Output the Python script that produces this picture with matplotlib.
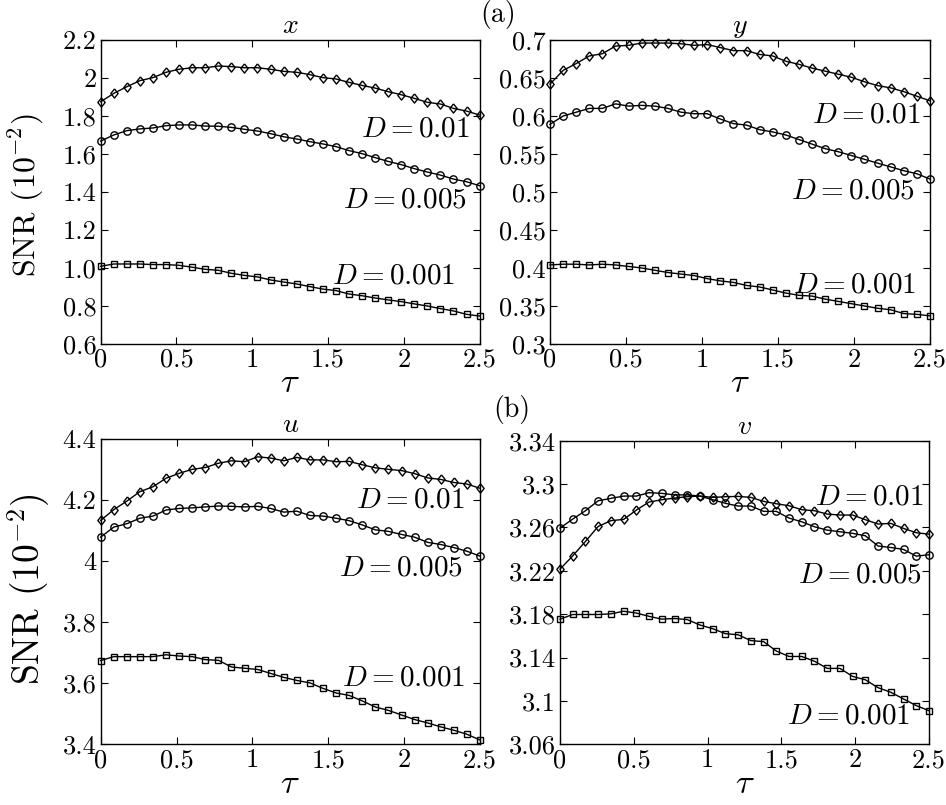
import numpy as np
import matplotlib
matplotlib.use("Agg")
import matplotlib.pyplot as plt

plt.rcParams["font.family"] = "serif"
plt.rcParams["font.serif"] = ["cmr10", "DejaVu Serif"]
plt.rcParams["mathtext.fontset"] = "cm"
plt.rcParams["axes.unicode_minus"] = False
plt.rcParams["axes.formatter.use_mathtext"] = True

tau = np.linspace(0, 2.5, 30)

# panel x
x_d01 = [1.875, 1.919, 1.954, 1.986, 2.002, 2.030, 2.046, 2.054, 2.054, 2.063,
         2.060, 2.054, 2.054, 2.046, 2.035, 2.030, 2.018, 2.002, 1.995, 1.977,
         1.961, 1.947, 1.928, 1.912, 1.893, 1.872, 1.863, 1.840, 1.826, 1.805]
x_d005 = [1.668, 1.700, 1.723, 1.732, 1.737, 1.749, 1.753, 1.753, 1.747, 1.746,
          1.740, 1.730, 1.721, 1.707, 1.691, 1.679, 1.665, 1.653, 1.639, 1.618,
          1.602, 1.581, 1.561, 1.544, 1.523, 1.505, 1.489, 1.468, 1.454, 1.433]
x_d001 = [1.009, 1.021, 1.021, 1.021, 1.018, 1.018, 1.014, 1.004, 0.993, 0.988,
          0.972, 0.961, 0.953, 0.937, 0.926, 0.916, 0.902, 0.889, 0.881, 0.863,
          0.854, 0.842, 0.832, 0.823, 0.811, 0.800, 0.786, 0.774, 0.756, 0.747]

# panel y
y_d01 = [0.642, 0.660, 0.669, 0.679, 0.682, 0.692, 0.693, 0.696, 0.696, 0.696,
         0.695, 0.693, 0.694, 0.690, 0.686, 0.686, 0.681, 0.679, 0.672, 0.668,
         0.663, 0.659, 0.655, 0.651, 0.645, 0.640, 0.637, 0.632, 0.626, 0.620]
y_d005 = [0.589, 0.600, 0.605, 0.610, 0.610, 0.616, 0.613, 0.614, 0.613, 0.610,
          0.605, 0.603, 0.603, 0.596, 0.590, 0.588, 0.582, 0.579, 0.575, 0.569,
          0.563, 0.557, 0.553, 0.548, 0.543, 0.538, 0.533, 0.528, 0.524, 0.517]
y_d001 = [0.404, 0.405, 0.405, 0.404, 0.405, 0.404, 0.402, 0.400, 0.397, 0.394,
          0.392, 0.390, 0.386, 0.383, 0.381, 0.377, 0.375, 0.371, 0.367, 0.364,
          0.363, 0.359, 0.356, 0.353, 0.350, 0.347, 0.345, 0.340, 0.339, 0.337]

# panel u
u_d01 = [4.133, 4.168, 4.196, 4.227, 4.243, 4.271, 4.287, 4.300, 4.306, 4.320,
         4.328, 4.325, 4.341, 4.337, 4.328, 4.339, 4.331, 4.331, 4.325, 4.326,
         4.315, 4.305, 4.300, 4.296, 4.286, 4.272, 4.267, 4.257, 4.252, 4.238]
u_d005 = [4.078, 4.111, 4.122, 4.140, 4.147, 4.167, 4.172, 4.174, 4.177, 4.180,
          4.179, 4.177, 4.179, 4.172, 4.160, 4.163, 4.149, 4.147, 4.140, 4.132,
          4.118, 4.102, 4.097, 4.087, 4.078, 4.061, 4.054, 4.044, 4.032, 4.016]
u_d001 = [3.674, 3.687, 3.687, 3.687, 3.687, 3.693, 3.689, 3.687, 3.677, 3.675,
          3.653, 3.649, 3.645, 3.632, 3.619, 3.609, 3.601, 3.583, 3.568, 3.560,
          3.542, 3.522, 3.511, 3.496, 3.481, 3.470, 3.457, 3.446, 3.433, 3.414]

# panel v
v_d01 = [3.2215, 3.2338, 3.2471, 3.2609, 3.2662, 3.2674, 3.2760, 3.2834, 3.2855, 3.2871,
         3.2883, 3.2889, 3.2877, 3.2883, 3.2886, 3.2877, 3.2840, 3.2818, 3.2800, 3.2763,
         3.2754, 3.2723, 3.2714, 3.2714, 3.2671, 3.2631, 3.2637, 3.2591, 3.2551, 3.2538]
v_d005 = [3.2594, 3.2677, 3.2754, 3.2846, 3.2868, 3.2889, 3.2889, 3.2920, 3.2914, 3.2900,
          3.2900, 3.2889, 3.2855, 3.2822, 3.2797, 3.2797, 3.2748, 3.2748, 3.2686, 3.2652,
          3.2606, 3.2575, 3.2560, 3.2545, 3.2523, 3.2428, 3.2415, 3.2397, 3.2335, 3.2348]
v_d001 = [3.1754, 3.1797, 3.1797, 3.1797, 3.1803, 3.1827, 3.1810, 3.1780, 3.1754, 3.1760,
          3.1750, 3.1700, 3.1666, 3.1620, 3.1610, 3.1556, 3.1547, 3.1460, 3.1410, 3.1410,
          3.1366, 3.1300, 3.1300, 3.1226, 3.1195, 3.1122, 3.1080, 3.1018, 3.0957, 3.0910]

x_ticks = [0, 0.5, 1, 1.5, 2, 2.5]
x_ticklabels = ["0", "0.5", "1", "1.5", "2", "2.5"]

panels = [
    # title, series, yticks, yticklabels, axes rect, label positions (axes fraction)
    ("$x$", (x_d01, x_d005, x_d001),
     [0.6, 0.8, 1.0, 1.2, 1.4, 1.6, 1.8, 2.0, 2.2],
     ["0.6", "0.8", "1.0", "1.2", "1.4", "1.6", "1.8", "2", "2.2"],
     [0.1064, 0.5727, 0.4006, 0.3776],
     [(0.974, 0.707), (0.966, 0.474), (0.935, 0.221)]),
    ("$y$", (y_d01, y_d005, y_d001),
     [0.3, 0.35, 0.4, 0.45, 0.5, 0.55, 0.6, 0.65, 0.7],
     ["0.3", "0.35", "0.4", "0.45", "0.5", "0.55", "0.6", "0.65", "0.7"],
     [0.5814, 0.5727, 0.4017, 0.3776],
     [(0.975, 0.753), (0.961, 0.501), (0.965, 0.194)]),
    ("$u$", (u_d01, u_d005, u_d001),
     [3.4, 3.6, 3.8, 4.0, 4.2, 4.4],
     ["3.4", "3.6", "3.8", "4", "4.2", "4.4"],
     [0.1064, 0.0754, 0.4010, 0.3795],
     [(0.960, 0.798), (0.956, 0.575), (0.960, 0.216)]),
    ("$v$", (v_d01, v_d005, v_d001),
     [3.06, 3.10, 3.14, 3.18, 3.22, 3.26, 3.30, 3.34],
     ["3.06", "3.1", "3.14", "3.18", "3.22", "3.26", "3.3", "3.34"],
     [0.5920, 0.0754, 0.3900, 0.3772],
     [(0.985, 0.815), (0.980, 0.557), (0.950, 0.091)]),
]

d_labels = ["$D=0.01$", "$D=0.005$", "$D=0.001$"]
# MATLAB-style diamond: a little narrower than tall
diamond = [(0, 1), (0.8, 0), (0, -1), (-0.8, 0), (0, 1)]
markers = [(diamond, 6.6), ("o", 5.3), ("s", 4.6)]

fig = plt.figure(figsize=(9.46, 8.05), dpi=100)

for i, (title, series, yt, ytl, rect, pos) in enumerate(panels):
    ax = fig.add_axes(rect)
    for vals, (m, ms) in zip(series, markers):
        ax.plot(tau, vals, color="black", lw=1.0, marker=m, ms=ms,
                mfc="none", mec="black", mew=1.0, clip_on=False, zorder=3)
    ax.set_xlim(0, 2.5)
    ax.set_ylim(yt[0], yt[-1])
    ax.set_xticks(x_ticks)
    ax.set_xticklabels(x_ticklabels)
    ax.set_yticks(yt)
    ax.set_yticklabels(ytl)
    ax.tick_params(direction="in", top=True, right=True, length=5,
                   width=0.8, labelsize=19, pad=3)
    for s in ax.spines.values():
        s.set_linewidth(1.0)
    ax.set_title(title, fontsize=20, pad=5)
    ax.set_xlabel(r"$\tau$", fontsize=25, labelpad=-3)
    for lab, (px, py) in zip(d_labels, pos):
        ax.text(px, py, lab, transform=ax.transAxes, ha="right", va="center",
                fontsize=21)

fig.text(0.028, 0.758, r"SNR $(10^{-2})$", rotation=90, ha="center",
         va="center", fontsize=23)
fig.text(0.030, 0.268, r"SNR $(10^{-2})$", rotation=90, ha="center",
         va="center", fontsize=27)
fig.text(0.527, 0.982, "(a)", ha="center", va="center", fontsize=20)
fig.text(0.541, 0.491, "(b)", ha="center", va="center", fontsize=20)

fig.savefig("out.png", dpi=100)
